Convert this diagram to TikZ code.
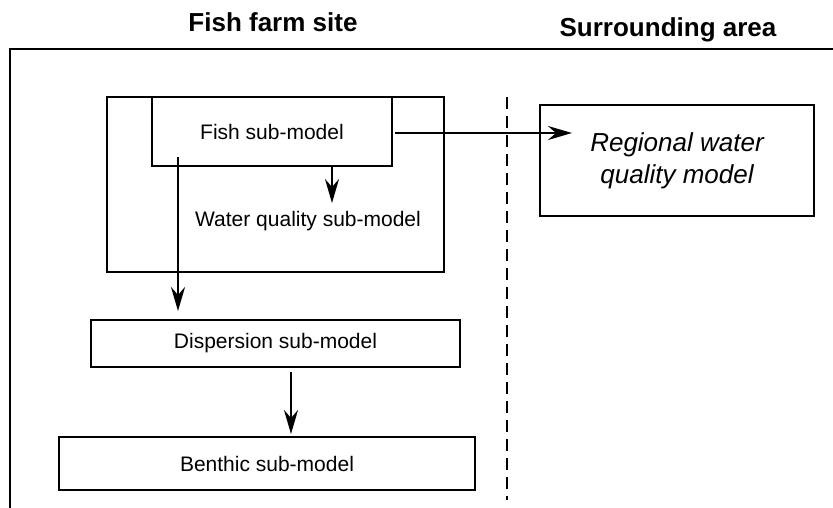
\documentclass[tikz,border=0pt]{standalone}
\usepackage{fontspec}
\setmainfont{Liberation Sans}
\usetikzlibrary{arrows.meta}
\begin{document}
\begin{tikzpicture}[x=1pt,y=-1pt,
  box/.style={draw,line width=2pt,rectangle,inner sep=0pt,font=\fontsize{21}{25}\selectfont},
  arr/.style={line width=2.5pt,-{Stealth[length=24pt,width=14pt,inset=8pt]}},
  ttl/.style={font=\fontsize{26}{30}\selectfont\bfseries}]
\useasboundingbox (0,0) rectangle (833,507);
\node[ttl] (t1) at (273,22) {Fish farm site};
\node[ttl] (t2) at (668,30) {Surrounding area};
\coordinate (f1) at (10,508);
\coordinate (f2) at (10,49);
\coordinate (f3) at (834,49);
\draw[line width=2.2pt] (f1) -- (f2) -- (f3);
\coordinate (d1) at (507,97);
\coordinate (d2) at (507,500);
\draw[line width=2.8pt,dash pattern=on 12pt off 7pt] (d1) -- (d2);
\node[box,minimum width=337pt,minimum height=175pt] (wq) at (275.5,184.5) {};
\node[box,fill=white,minimum width=240pt,minimum height=69pt] (fish) at (272,131.5) {Fish sub-model};
\node[font=\fontsize{21}{25}\selectfont] (wqlabel) at (308,221) {Water quality sub-model};
\node[box,minimum width=274pt,minimum height=111pt,align=center,font=\fontsize{26}{32}\selectfont\itshape] (reg) at (677,160.5) {Regional water\\quality model};
\node[box,minimum width=369pt,minimum height=47pt] (disp) at (275.5,343.5) {Dispersion sub-model};
\node[box,minimum width=416pt,minimum height=53pt] (bent) at (267,463.5) {Benthic sub-model};
% connectors
\coordinate (a1) at (395,133);
\coordinate (a1e) at (572,133);
\draw[arr] (a1) -- (a1e);
\coordinate (a2) at (332,166);
\draw[arr] (a2) -- (332,203);
\coordinate (a3) at (178,157);
\draw[arr] (a3) -- ([yshift=8pt]a3 |- disp.north);
\coordinate (a4) at (291,372);
\draw[arr] (a4) -- ([yshift=2pt]a4 |- bent.north);
\end{tikzpicture}
\end{document}
